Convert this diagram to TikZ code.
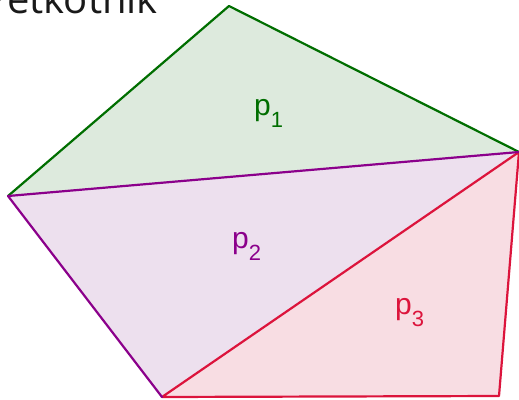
\documentclass[tikz,border=0pt]{standalone}
\usepackage{fontspec}
\setmainfont{Liberation Sans}
\newfontfamily\titlefont{Open Sans}
\definecolor{gline}{RGB}{0,110,0}
\definecolor{gfill}{RGB}{221,234,221}
\definecolor{pline}{RGB}{139,0,139}
\definecolor{pfill}{RGB}{237,224,238}
\definecolor{rline}{RGB}{220,20,60}
\definecolor{rfill}{RGB}{248,221,227}
\tikzset{
  edge/.style={line width=2.2pt, line cap=round, line join=round},
  lbl/.style={anchor=base west, inner sep=0pt, font=\fontsize{30}{32}\selectfont},
}
\newcommand{\sub}[1]{\raisebox{-12pt}{\fontsize{22}{24}\selectfont #1}}
\begin{document}
\begin{tikzpicture}[x=1pt,y=-1pt]
\useasboundingbox (0,0) rectangle (519,399);
\clip (0,0) rectangle (519,399);
\coordinate (A) at (229,6);
\coordinate (B) at (519,152);
\coordinate (C) at (499,396);
\coordinate (D) at (162,397);
\coordinate (E) at (8,196);
\fill[gfill] (E) -- (A) -- (B) -- cycle;
\fill[pfill] (E) -- (B) -- (D) -- cycle;
\fill[rfill] (D) -- (B) -- (C) -- cycle;
\draw[edge, gline] (E) -- (A) -- (B);
\draw[edge, rline] (B) -- (C) -- (D) -- (B);
\draw[edge, pline] (D) -- (E) -- (B);
\node[lbl, text=gline] (p1) at (254,115) {p\sub{1}};
\node[lbl, text=pline] (p2) at (232,248) {p\sub{2}};
\node[lbl, text=rline] (p3) at (395,314) {p\sub{3}};
\node[anchor=base east, inner sep=0pt, font=\titlefont\fontsize{40}{44}\selectfont, text=black!90] (title) at (158,13) {Petkotnik};
\end{tikzpicture}
\end{document}
